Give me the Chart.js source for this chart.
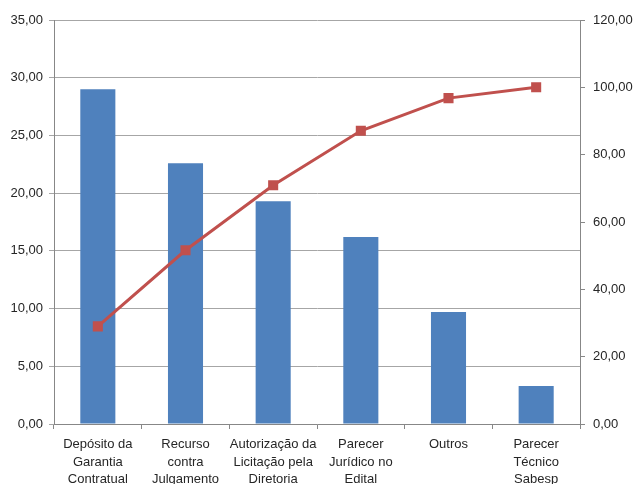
<!DOCTYPE html>
<html>
<head>
<meta charset="utf-8">
<script src="https://cdn.jsdelivr.net/npm/chart.js@4"></script>
<style>
html,body{margin:0;padding:0;background:#fff;}
#wrap{width:635px;height:484px;position:relative;}
</style>
</head>
<body>
<div id="wrap"><canvas id="c" width="635" height="484"></canvas></div>
<script>
const categories = [
  ["Depósito da", "Garantia", "Contratual"],
  ["Recurso", "contra", "Julgamento"],
  ["Autorização da", "Licitação pela", "Diretoria"],
  ["Parecer", "Jurídico no", "Edital"],
  ["Outros"],
  ["Parecer", "Técnico", "Sabesp"]
];
const barValues = [29.0, 22.6, 19.3, 16.2, 9.7, 3.3];
const cumulativeValues = [29.0, 51.6, 70.9, 87.1, 96.8, 100.0];
const leftMax = 35, leftStep = 5;
const rightMax = 120, rightStep = 20;

const fmt = v => Number(v).toFixed(2).replace('.', ',');
const FONT = {family: "'Liberation Sans', Arial, sans-serif", size: 13};
const XFONT = {family: "'Liberation Sans', Arial, sans-serif", size: 13, lineHeight: 1.35};
const TXT = '#262626';
const AX = '#878787';

new Chart(document.getElementById('c'), {
  data: {
    labels: categories,
    datasets: [
      {
        type: 'line',
        data: cumulativeValues,
        yAxisID: 'y2',
        borderColor: '#C0504D',
        backgroundColor: '#C0504D',
        borderWidth: 3,
        pointStyle: 'rect',
        pointRadius: 5,
        pointHoverRadius: 5,
        tension: 0,
        order: 0
      },
      {
        type: 'bar',
        data: barValues,
        yAxisID: 'y',
        backgroundColor: '#4F81BD',
        borderWidth: 0,
        categoryPercentage: 1,
        barPercentage: 0.4,
        order: 1
      }
    ]
  },
  options: {
    responsive: false,
    animation: false,
    devicePixelRatio: 1,
    layout: {padding: {top: 20, left: 0, right: 0, bottom: 0}},
    plugins: {legend: {display: false}, tooltip: {enabled: false}},
    scales: {
      x: {
        offset: true,
        grid: {display: true, drawOnChartArea: false, offset: true, color: AX, tickLength: 5},
        border: {color: AX},
        ticks: {font: XFONT, color: TXT, padding: 7, maxRotation: 0, autoSkip: false},
        afterFit: s => { s.height = 60; }
      },
      y: {
        position: 'left',
        min: 0, max: leftMax,
        ticks: {stepSize: leftStep, callback: fmt, font: FONT, color: TXT, padding: 6},
        grid: {color: '#a6a6a6', tickLength: 5},
        border: {color: AX},
        afterFit: s => { s.width = 54; }
      },
      y2: {
        position: 'right',
        min: 0, max: rightMax,
        ticks: {stepSize: rightStep, callback: fmt, font: FONT, color: TXT, padding: 8},
        grid: {drawOnChartArea: false, color: AX, tickLength: 5},
        border: {color: AX},
        afterFit: s => { s.width = 55; }
      }
    }
  }
});
</script>
</body>
</html>
